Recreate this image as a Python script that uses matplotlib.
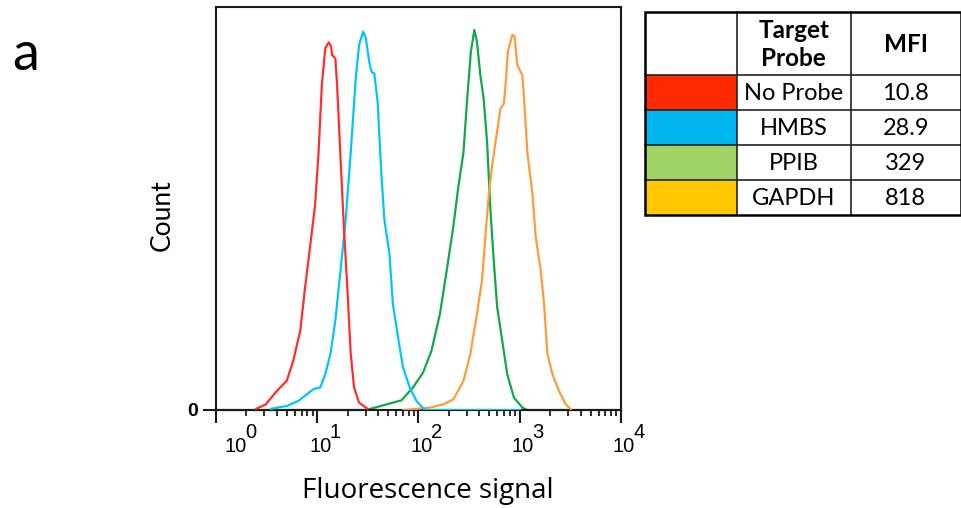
import matplotlib
matplotlib.use("Agg")
import matplotlib.pyplot as plt
from matplotlib.patches import Rectangle
from matplotlib.transforms import offset_copy
from matplotlib import font_manager

# ---------------- data ----------------
red_x = [2.5, 3.1, 4.0, 5.0, 5.8, 6.8, 7.6, 8.5, 9.5, 10.3, 11.1, 12.0, 13.0, 13.7, 14.0,
         15.1, 15.7, 17.0, 18.3, 19.8, 21.4, 23.1, 25.9, 31.4]
red_y = [0.3, 1.4, 4.75, 7.25, 12.25, 19.75, 30.6, 40.6, 50.6, 63.9, 80.6, 89.75, 91.25, 90.25,
         88.1, 87.25, 80.6, 62.25, 45.6, 30.6, 14.0, 5.6, 1.8, 0.3]

blue_x = [3.5, 5.0, 6.5, 7.9, 9.2, 10.7, 12.0, 13.5, 15.1, 17.0, 19.1, 21.4, 24.0, 25.9, 28.4,
          30.2, 32.6, 34.4, 36.6, 39.5, 42.7, 46.0, 51.6, 55.8, 62.7, 70.3, 81.8, 95.5, 115.6, 1000]
blue_y = [0.3, 1.0, 2.25, 3.9, 5.2, 5.6, 8.9, 13.9, 22.25, 34.75, 47.25, 63.9, 82.25, 90.6, 93.9,
          92.25, 86.4, 83.9, 83.5, 76.4, 59.75, 47.25, 38.9, 26.4, 18.1, 10.6, 5.6, 2.25, 0.0, 0.0]

green_x = [1, 30.6, 48.3, 67.8, 88.4, 111, 134.5, 163, 197, 221, 248, 278, 301, 329, 356, 378,
           408, 440, 476, 513, 553, 598, 671, 752, 875, 1060, 1189, 10000]
green_y = [0.0, 0.0, 1.4, 2.4, 5.6, 9.3, 14.75, 23.9, 37.25, 45.6, 55.6, 63.9, 76.4, 88.9, 94.3,
           91.4, 83.1, 77.25, 66.4, 49.75, 37.25, 25.6, 17.25, 8.9, 3.1, 0.6, 0.0, 0.0]

orange_x = [71, 130, 176, 222, 278, 325, 378, 424, 458, 493, 533, 589, 645, 696, 724, 763, 844,
            889, 946, 1060, 1099, 1188, 1332, 1436, 1609, 1736, 1876, 2101, 2442, 2846, 3188]
orange_y = [0.0, 0.6, 1.4, 2.7, 7.25, 13.9, 23.9, 32.25, 43.1, 53.1, 60.6, 68.1, 74.75, 76.0,
            80.6, 88.9, 93.1, 92.7, 85.6, 83.1, 78.1, 63.9, 53.9, 43.1, 34.75, 26.4, 13.9, 8.9,
            4.75, 1.4, 0.2]

tick_exponents = [0, 1, 2, 3, 4]

probes = ["No Probe", "HMBS", "PPIB", "GAPDH"]
mfi = ["10.8", "28.9", "329", "818"]
swatch_colors = ["#FF2A00", "#00B6EF", "#A0D466", "#FFC800"]
header = ["", "Target\nProbe", "MFI"]

line_red = "#FF2E2E"
line_blue = "#00C6FA"
line_green = "#12A64E"
line_orange = "#FF9C3A"

# ---------------- fonts ----------------
available = {f.name for f in font_manager.fontManager.ttflist}
tick_font = ["Liberation Sans Narrow", "Liberation Sans"] if "Liberation Sans Narrow" in available \
    else ["Liberation Sans"]

# ---------------- figure ----------------
W, H = 962, 508
fig = plt.figure(figsize=(W / 100, H / 100), dpi=100)

def fx(px):
    return px / W

def fy(py):
    return 1 - py / H

ax_l, ax_r, ax_t, ax_b = 216, 621, 7, 410
ax = fig.add_axes([fx(ax_l), fy(ax_b), fx(ax_r - ax_l), (ax_b - ax_t) / H])

ax.plot(green_x, green_y, color=line_green, lw=1.6, zorder=2, clip_on=False)
ax.plot(orange_x, orange_y, color=line_orange, lw=1.6, zorder=3)
ax.plot(blue_x, blue_y, color=line_blue, lw=1.6, zorder=4)
ax.plot(red_x, red_y, color=line_red, lw=1.6, zorder=5)

ax.set_xscale("log")
ax.set_xlim(1, 1e4)
ax.set_ylim(0, 100)

for s in ax.spines.values():
    s.set_linewidth(1.5)
    s.set_color("#1a1a1a")

major = [10.0 ** e for e in tick_exponents]
ax.set_xticks(major)
ax.set_xticklabels([""] * len(major))
ax.xaxis.set_minor_locator(matplotlib.ticker.LogLocator(base=10, subs=range(2, 10)))
ax.xaxis.set_minor_formatter(matplotlib.ticker.NullFormatter())
ax.tick_params(axis="x", which="major", direction="out", length=9.5, width=1.5, color="#1a1a1a")
ax.tick_params(axis="x", which="minor", direction="out", length=4.5, width=1.3, color="#1a1a1a")

ax.set_yticks([0])
ax.set_yticklabels(["0"], fontfamily="Liberation Sans", fontweight="bold", fontsize=14)
ax.tick_params(axis="y", which="major", direction="out", length=9.5, width=1.5, pad=3.5,
               color="#1a1a1a")

# custom decade labels 10^n
trans = ax.get_xaxis_transform()
for i, e in enumerate(tick_exponents):
    dx = 20 if i == 0 else 3
    t1 = offset_copy(trans, fig=fig, x=dx, y=-42, units="dots")
    ax.text(10.0 ** e, 0, "10", transform=t1, ha="center", va="baseline",
            fontfamily=tick_font, fontsize=14.5, clip_on=False)
    t2 = offset_copy(trans, fig=fig, x=dx + 15, y=-27.5, units="dots")
    ax.text(10.0 ** e, 0, str(e), transform=t2, ha="center", va="baseline",
            fontfamily=tick_font, fontsize=14.5, clip_on=False)

fig.text(fx(162.5), fy(215), "Count", rotation=90, ha="center", va="center",
         fontfamily="Lato", fontsize=19)
fig.text(fx(427.5), fy(498), "Fluorescence signal", ha="center", va="baseline",
         fontfamily="Open Sans", fontsize=20)
fig.text(fx(12), fy(70), "a", ha="left", va="baseline", fontfamily="Lato", fontsize=39)

# ---------------- table ----------------
tl, tr, tt, tb = 645, 961, 11.7, 215
tax = fig.add_axes([fx(tl), fy(tb), fx(tr - tl), (tb - tt) / H])
tax.set_xlim(tl, tr)
tax.set_ylim(tb, tt)
tax.axis("off")

col_edges = [tl, 737, 850.5, tr]
row_edges = [tt, 75, 110, 145, 180, tb]

for r in range(len(probes)):
    y0, y1 = row_edges[r + 1], row_edges[r + 2]
    tax.add_patch(Rectangle((col_edges[0], y0), col_edges[1] - col_edges[0], y1 - y0,
                            facecolor=swatch_colors[r], edgecolor="none", zorder=1))
    yc = (y0 + y1) / 2 + 1
    tax.text((col_edges[1] + col_edges[2]) / 2, yc, probes[r], ha="center", va="center",
             fontfamily="Lato", fontsize=17, zorder=3)
    tax.text((col_edges[2] + col_edges[3]) / 2, yc, mfi[r], ha="center", va="center",
             fontfamily="Lato", fontsize=17, zorder=3)

hc = (row_edges[0] + row_edges[1]) / 2 + 1
for c in range(1, 3):
    tax.text((col_edges[c] + col_edges[c + 1]) / 2, hc, header[c], ha="center", va="center",
             fontfamily="Lato", fontweight="bold", fontsize=17.5, linespacing=1.25, zorder=3)

for xe in col_edges[1:-1]:
    tax.plot([xe, xe], [tt, tb], color="#222222", lw=1.2, zorder=4, clip_on=False)
for ye in row_edges[1:-1]:
    tax.plot([tl, tr], [ye, ye], color="#222222", lw=1.2, zorder=4, clip_on=False)
tax.add_patch(Rectangle((tl, tt), tr - tl, tb - tt, facecolor="none", edgecolor="black",
                        lw=1.8, zorder=5, clip_on=False))

fig.savefig("out.png", dpi=100)
